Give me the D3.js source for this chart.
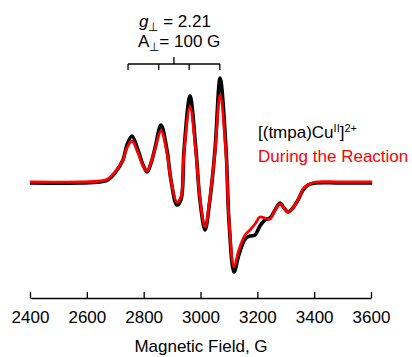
<!DOCTYPE html>
<html>
<head>
<meta charset="utf-8">
<script src="https://cdn.jsdelivr.net/npm/d3@7"></script>
<style>
  body { margin: 0; background: #fff; }
  svg { display: block; font-family: "Liberation Sans", Arial, Helvetica, sans-serif; }
</style>
</head>
<body>
<script>
// magnetic field positions (G)
var fields = [2400, 2576, 2646, 2674, 2699, 2727, 2741, 2759, 2780, 2798, 2812, 2826, 2840, 2861,
              2882, 2896, 2917, 2931, 2942, 2963, 2984, 2998, 3016, 3033, 3051, 3069, 3090, 3100,
              3118, 3135, 3157, 3174, 3192, 3209, 3227, 3245, 3262, 3280, 3294, 3308, 3325, 3343,
              3361, 3378, 3403, 3491, 3604]

// [(tmpa)CuII]2+ signal (arb. units)
var cuSignal = [0, 0, 1, 3, 10, 23, 38, 47, 33, 18, 11, 20, 35, 58,
                33, 3, -22, -17, 33, 87, 33, -17, -47, -17, 33, 105, 33, -37,
                -89, -72, -56, -53, -52, -43, -37, -35, -27, -20, -25, -29, -25, -17,
                -7, -2, 0, 0, 0]

// during the reaction
var rxnSignal = [1, 1, 2, 4, 11, 23, 35, 42, 30, 17, 12, 21, 34, 52,
                 30, 3, -19, -14, 31, 76, 30, -15, -44, -15, 31, 88, 28, -35,
                 -84, -67, -52, -47, -41, -34, -35, -36, -27, -21, -25, -29, -25, -17,
                 -6, -2, 1, 1, 1]

var xTicks = [2400, 2600, 2800, 3000, 3200, 3400, 3600]

// hyperfine stick marks (A = 100 G)
var sticks = [2745, 2853, 2960, 3068]

var screen = {width: 412, height: 357}

var xScale = d3.scaleLinear()
                .domain([2400, 3600])
                .range([30, 371])

var yScale = d3.scaleLinear()
                .domain([-110, 125])
                .range([293, 58])

var svg = d3.select("body")
    .append("svg")
    .attr("width", screen.width)
    .attr("height", screen.height)

// x axis, ticks point up into the plot
var xAxis = d3.axisBottom(xScale)
    .tickValues(xTicks)
    .tickFormat(d3.format("d"))
    .tickSizeInner(-6)
    .tickSizeOuter(0)
    .tickPadding(13)

var axisG = svg.append("g")
    .attr("transform", "translate(0,298)")
    .call(xAxis)

axisG.select(".domain").attr("stroke", "#000").attr("stroke-width", 1.3)
axisG.selectAll(".tick line").attr("stroke", "#000").attr("stroke-width", 1.3)
axisG.selectAll(".tick text")
    .attr("fill", "#000")
    .style("font-size", "17px")
    .style("font-family", "'Liberation Sans', Arial, sans-serif")

svg.append("text")
    .attr("x", 201)
    .attr("y", 352)
    .attr("text-anchor", "middle")
    .style("font-size", "17px")
    .text("Magnetic Field, G")

// spectra
var line = function(vals)
{
    return d3.line()
        .x(function(d, i) {return xScale(fields[i])})
        .y(function(d) {return yScale(d)})
        .curve(d3.curveCatmullRom.alpha(0.5))(vals)
}

svg.append("path")
    .attr("d", line(cuSignal))
    .attr("fill", "none")
    .attr("stroke", "#000")
    .attr("stroke-width", 3.6)
    .attr("stroke-linejoin", "round")

svg.append("path")
    .attr("d", line(rxnSignal))
    .attr("fill", "none")
    .attr("stroke", "#ff0000")
    .attr("stroke-width", 2.8)
    .attr("stroke-linejoin", "round")

// stick diagram above the parallel region
var stickY = 64
var mid = (sticks[0] + sticks[sticks.length - 1]) / 2

svg.append("line")
    .attr("x1", xScale(sticks[0]))
    .attr("x2", xScale(sticks[sticks.length - 1]))
    .attr("y1", stickY).attr("y2", stickY)
    .attr("stroke", "#000").attr("stroke-width", 1.3)

svg.selectAll(".stick")
    .data(sticks)
    .enter()
    .append("line")
    .attr("class", "stick")
    .attr("x1", function(d) {return xScale(d)})
    .attr("x2", function(d) {return xScale(d)})
    .attr("y1", stickY)
    .attr("y2", stickY + 6)
    .attr("stroke", "#000").attr("stroke-width", 1.3)

svg.append("line")
    .attr("x1", xScale(mid)).attr("x2", xScale(mid))
    .attr("y1", stickY).attr("y2", stickY - 7)
    .attr("stroke", "#000").attr("stroke-width", 1.3)

// g and A labels
var gText = svg.append("text")
    .attr("x", 139).attr("y", 27)
    .style("font-size", "17px")
gText.append("tspan").style("font-style", "italic").text("g")
gText.append("tspan").attr("dy", 4).style("font-size", "12px").text("⊥")
gText.append("tspan").attr("dy", -4).text(" = 2.21")

var aText = svg.append("text")
    .attr("x", 138).attr("y", 47)
    .style("font-size", "17px")
aText.append("tspan").text("A")
aText.append("tspan").attr("dy", 4).style("font-size", "12px").text("⊥")
aText.append("tspan").attr("dy", -4).text("= 100 G")

// legend
var leg1 = svg.append("text")
    .attr("x", 258).attr("y", 138)
    .style("font-size", "17px")
leg1.append("tspan").text("[(tmpa)Cu")
leg1.append("tspan").attr("dy", -6).style("font-size", "11px").text("II")
leg1.append("tspan").attr("dy", 6).text("]")
leg1.append("tspan").attr("dy", -6).style("font-size", "11px").text("2+")

svg.append("text")
    .attr("x", 258).attr("y", 162)
    .attr("fill", "#ff0000")
    .style("font-size", "17px")
    .text("During the Reaction")
</script>
</body>
</html>
